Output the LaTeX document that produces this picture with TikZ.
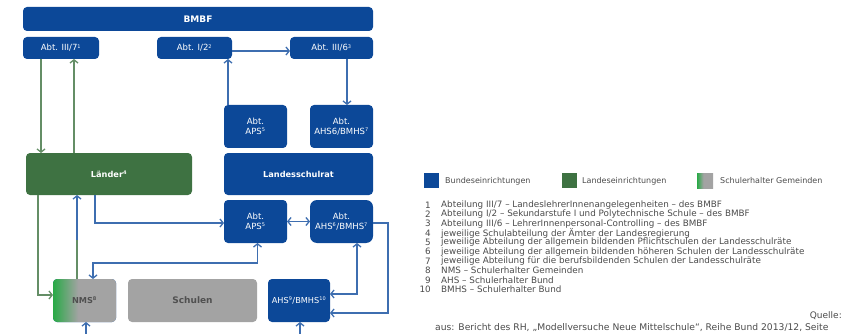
\documentclass[tikz,border=0pt]{standalone}
\usepackage{fontspec}
\setmainfont{DejaVu Sans}
\usetikzlibrary{arrows.meta,calc}
\definecolor{bblue}{RGB}{12,72,152}
\definecolor{lblue}{RGB}{62,110,176}
\definecolor{dgreen}{RGB}{62,114,66}
\definecolor{lgreen}{RGB}{100,142,102}
\definecolor{boxgray}{RGB}{163,163,163}
\definecolor{nmsg}{RGB}{40,170,70}
\definecolor{txtgray}{RGB}{75,75,75}
\definecolor{schgray}{RGB}{80,80,80}
\pgfdeclarehorizontalshading{nmsshade}{100bp}{color(0bp)=(nmsg); color(25bp)=(nmsg); color(45bp)=(boxgray); color(100bp)=(boxgray)}
\newcommand{\sps}[1]{\textsuperscript{\tiny #1}}
\begin{document}
\begin{tikzpicture}[x=1pt,y=-1pt,
  bx/.style={fill=bblue, rounded corners=4pt, inner sep=0pt, outer sep=0pt, text=white, align=center, font=\fontsize{8.5}{10}\selectfont},
  bxb/.style={font=\bfseries\fontsize{8.2}{10}\selectfont},
  gx/.style={bx, fill=dgreen},
  grx/.style={bx, fill=boxgray, text=schgray},
  bl/.style={draw=lblue, line width=1.3pt},
  gl/.style={draw=lgreen, line width=1.3pt},
  tip/.tip={Straight Barb[length=3.2pt,width=8pt]},
  note/.style={anchor=west, inner sep=0pt, text=txtgray, font=\fontsize{8.8}{9}\selectfont},
  num/.style={anchor=east, inner sep=0pt, text=txtgray, font=\fontsize{8.8}{9}\selectfont}
]
\useasboundingbox (0,0) rectangle (843,334);
% boxes
\node[bx, bxb, minimum width=350, minimum height=24, font=\bfseries\fontsize{9}{10}\selectfont] (bmbf) at (198,19) {BMBF};
\node[bx, minimum width=76, minimum height=22] (a37) at (61,48) {Abt. III/7\sps{1}};
\node[bx, minimum width=75, minimum height=22] (a12) at (194.5,48) {Abt. I/2\sps{2}};
\node[bx, minimum width=83, minimum height=22] (a36) at (331.5,48) {Abt. III/6\sps{3}};
\node[bx, minimum width=63, minimum height=43] (apsu) at (255.5,126.5) {Abt.\\APS\sps{5}};
\node[bx, minimum width=63, minimum height=43] (ahsu) at (341.5,126.5) {Abt.\\AHS6/BMHS\sps{7}};
\node[gx, bxb, minimum width=166, minimum height=42] (land) at (109,174) {Länder\sps{4}};
\node[bx, bxb, minimum width=149, minimum height=42] (lsr) at (298.5,174) {Landesschulrat};
\node[bx, minimum width=63, minimum height=43] (apsl) at (255.5,221.5) {Abt.\\APS\sps{5}};
\node[bx, minimum width=63, minimum height=43, rounded corners=7pt] (ahsl) at (341.5,221.5) {Abt.\\AHS\sps{6}/BMHS\sps{7}};
\node[bx, bxb, shade, shading=nmsshade, minimum width=63, minimum height=43, text=schgray] (nms) at (84.5,300.5) {NMS\sps{8}};
\node[grx, minimum width=129, minimum height=43, font=\bfseries\fontsize{9}{10}\selectfont] (sch) at (192.5,300.5) {Schulen};
\node[bx, minimum width=62, minimum height=43, font=\fontsize{8.2}{10}\selectfont] (ahsb) at (299,300.5) {AHS\sps{9}/BMHS\sps{10}};
% helper coordinates
\coordinate (k1) at (257.5,263);
\coordinate (k2) at (388,313);
\coordinate (k3) at (77,240);
\coordinate (bot) at (0,336);
% connectors
\draw[bl,-tip] ([yshift=-3]a12.east) -- ([yshift=-3]a36.west);
\draw[bl,-tip] ([xshift=15.5]a36.south) -- ([xshift=5.5]ahsu.north);
\draw[bl,-tip] ([xshift=-27.5]apsu.north) -- ([xshift=33.5]a12.south);
\draw[gl,-tip] ([xshift=-20]a37.south) -- ([xshift=-68]land.north);
\draw[gl,-tip] ([xshift=-35]land.north) -- ([xshift=13]a37.south);
\draw[bl,-tip] ([xshift=-14]land.south) |- ([yshift=-1.5]apsl.west);
\draw[gl] ([xshift=-7.5]nms.north) -- (k3);
\draw[bl,-tip] (k3) -- ([xshift=-32]land.south);
\draw[gl,-tip] ([xshift=-71]land.south) |- ([yshift=5.5]nms.west);
\draw[bl,tip-tip] ([xshift=8.5]nms.north) |- (k1) -- ([xshift=2]apsl.south);
\draw[bl,tip-tip] (apsl.east) -- (ahsl.west);
\draw[bl,tip-tip] ([xshift=15.5]ahsl.south) |- ([yshift=6.5]ahsb.east);
\draw[bl,-tip] ([yshift=-1.5]ahsl.east) -| (k2) -- ([yshift=-12.5]ahsb.east);
\draw[bl,-tip] ([xshift=1.5]nms.south |- bot) -- ([xshift=1.5]nms.south);
\draw[bl,-tip] ([xshift=1]ahsb.south |- bot) -- ([xshift=1]ahsb.south);
% legend
\fill[bblue] (424,173) rectangle (439,188);
\node[note, font=\fontsize{8}{9}\selectfont] (lg1) at (445,181) {Bundeseinrichtungen};
\fill[dgreen] (562,173) rectangle (577,188);
\node[note, font=\fontsize{8}{9}\selectfont] (lg2) at (582,181) {Landeseinrichtungen};
\shade[shading=nmsshade] (697,173) rectangle (713,188);
\node[note, font=\fontsize{8}{9}\selectfont] (lg3) at (720,181) {Schulerhalter Gemeinden};
% notes
\foreach \i/\t in {1/{Abteilung III/7 – LandeslehrerInnenangelegenheiten – des BMBF},
  2/{Abteilung I/2 – Sekundarstufe I und Polytechnische Schule – des BMBF},
  3/{Abteilung III/6 – LehrerInnenpersonal-Controlling – des BMBF},
  4/{jeweilige Schulabteilung der Ämter der Landesregierung},
  5/{jeweilige Abteilung der allgemein bildenden Pflichtschulen der Landesschulräte},
  6/{jeweilige Abteilung der allgemein bildenden höheren Schulen der Landesschulräte},
  7/{jeweilige Abteilung für die berufsbildenden Schulen der Landesschulräte},
  8/{NMS – Schulerhalter Gemeinden},
  9/{AHS – Schulerhalter Bund},
  10/{BMHS – Schulerhalter Bund}}
{
  \node[num] (n\i) at (431,{205+9.35*(\i-1)}) {\i};
  \node[note] (t\i) at (441,{205+9.35*(\i-1)}) {\t};
}
\node[anchor=east, inner sep=0pt, text=txtgray, font=\fontsize{9}{10}\selectfont] (q) at (842,316) {Quelle:};
\node[note, font=\fontsize{9.2}{10}\selectfont] (aus) at (435,328) {aus: Bericht des RH, „Modellversuche Neue Mittelschule“, Reihe Bund 2013/12, Seite};
\end{tikzpicture}
\end{document}
